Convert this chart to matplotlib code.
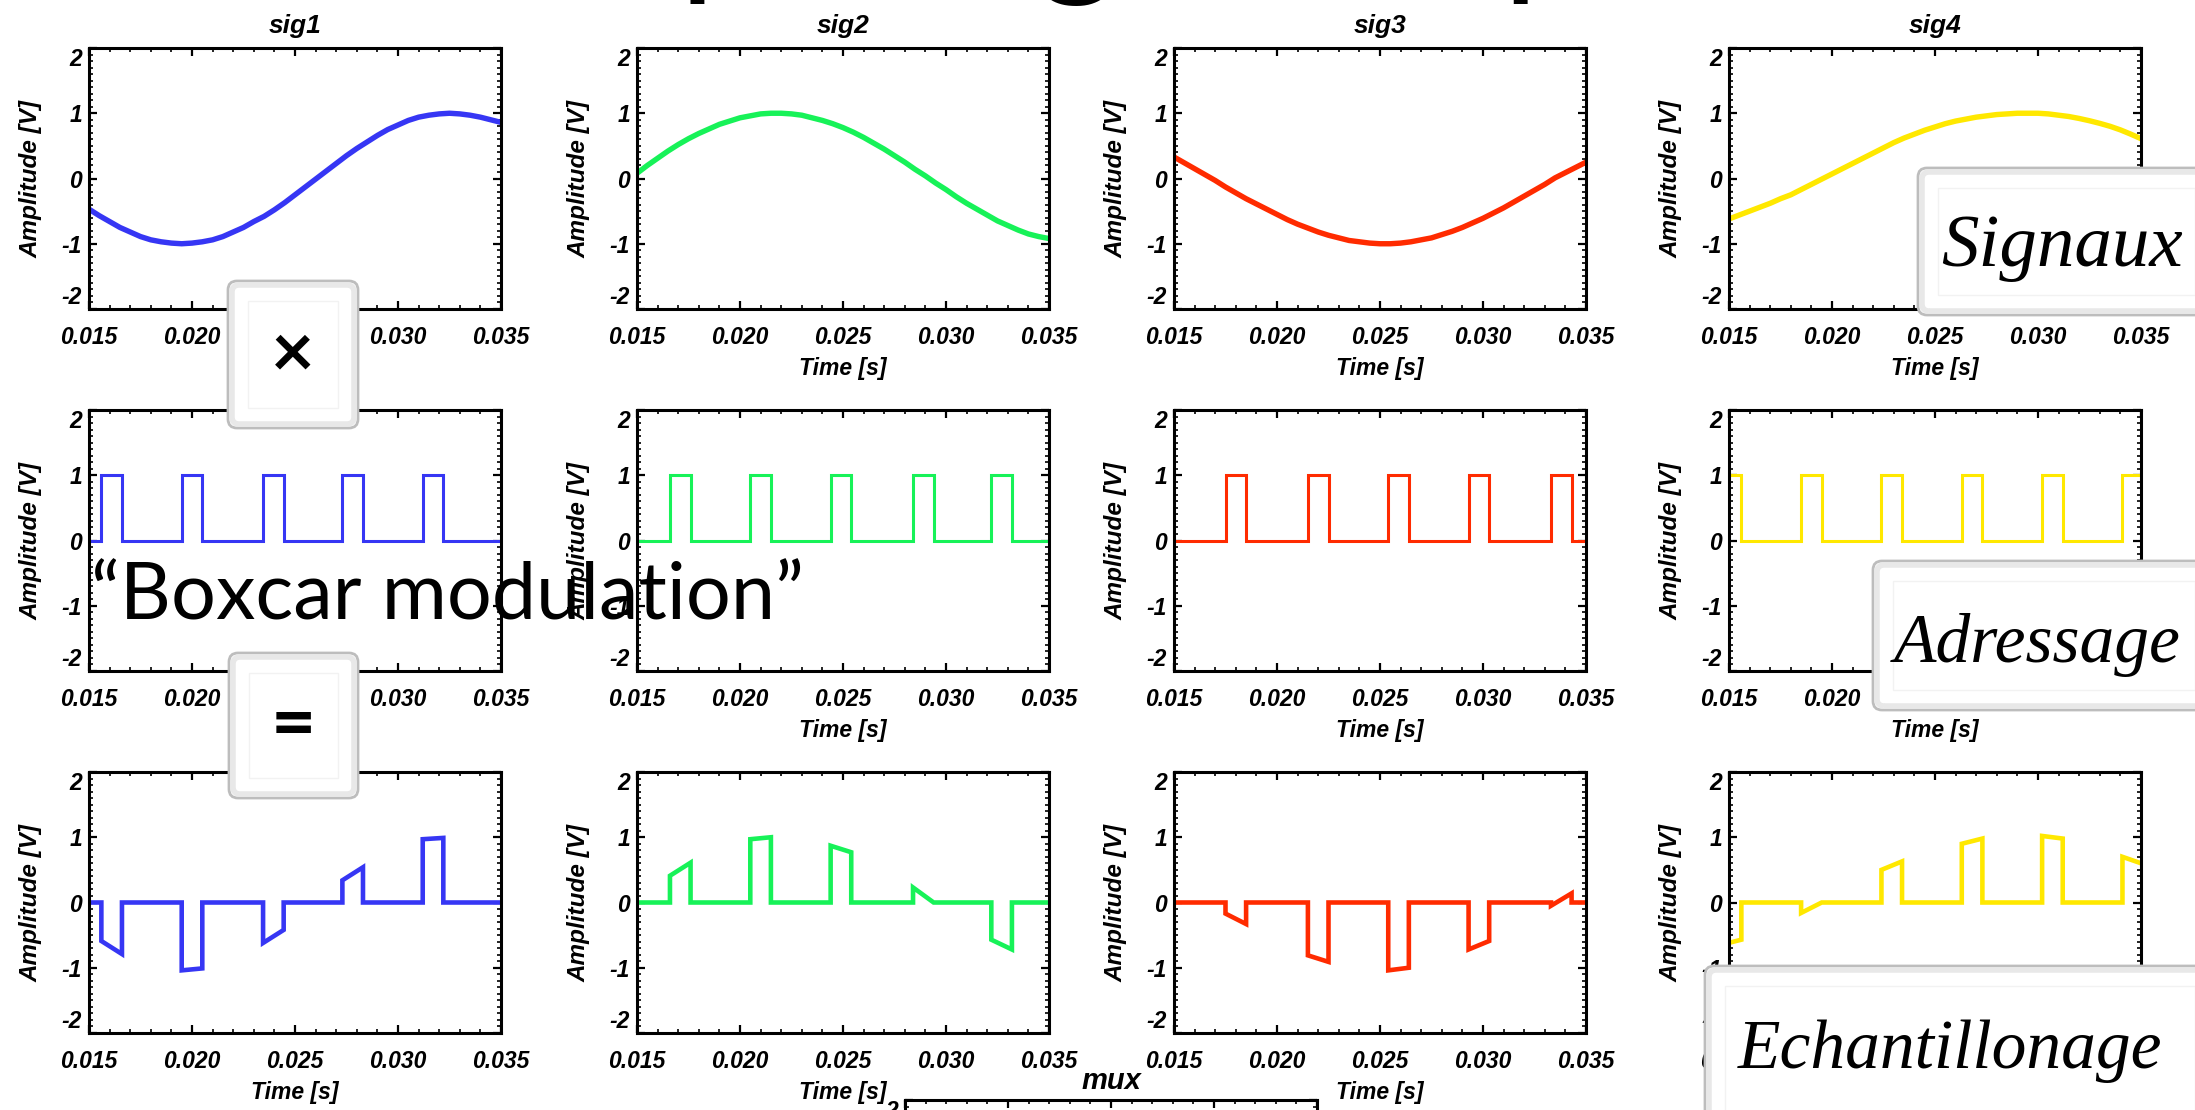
import matplotlib
matplotlib.use("Agg")
import matplotlib.pyplot as plt
from matplotlib.ticker import FixedLocator, MultipleLocator, FormatStrFormatter
from matplotlib.patches import FancyBboxPatch, Rectangle
from matplotlib.transforms import IdentityTransform

plt.rcParams['axes.unicode_minus'] = False

# ---------------- data ----------------
time_s = [0.0150, 0.0155, 0.0160, 0.0165, 0.0170, 0.0175, 0.0180, 0.0185, 0.0190, 0.0195,
          0.0200, 0.0205, 0.0210, 0.0215, 0.0220, 0.0225, 0.0230, 0.0235, 0.0240, 0.0245,
          0.0250, 0.0255, 0.0260, 0.0265, 0.0270, 0.0275, 0.0280, 0.0285, 0.0290, 0.0295,
          0.0300, 0.0305, 0.0310, 0.0315, 0.0320, 0.0325, 0.0330, 0.0335, 0.0340, 0.0345,
          0.0350]

sig1 = [-0.47, -0.57, -0.66, -0.75, -0.82, -0.89, -0.94, -0.97, -0.99, -1.00,
        -0.99, -0.97, -0.94, -0.89, -0.82, -0.75, -0.66, -0.58, -0.48, -0.37,
        -0.25, -0.13, -0.01, 0.11, 0.23, 0.35, 0.46, 0.56, 0.66, 0.75,
        0.82, 0.89, 0.94, 0.97, 0.99, 1.00, 0.99, 0.97, 0.94, 0.90,
        0.86]
sig2 = [0.08, 0.20, 0.31, 0.42, 0.52, 0.61, 0.69, 0.76, 0.83, 0.88,
        0.93, 0.96, 0.99, 1.00, 1.00, 0.99, 0.97, 0.93, 0.89, 0.84,
        0.78, 0.71, 0.63, 0.54, 0.45, 0.35, 0.25, 0.14, 0.04, -0.07,
        -0.17, -0.28, -0.38, -0.47, -0.56, -0.65, -0.72, -0.79, -0.85, -0.89,
        -0.92]
sig3 = [0.33, 0.24, 0.15, 0.06, -0.03, -0.13, -0.22, -0.31, -0.39, -0.47,
        -0.55, -0.63, -0.70, -0.76, -0.82, -0.87, -0.91, -0.95, -0.97, -0.99,
        -1.00, -1.00, -0.99, -0.97, -0.94, -0.91, -0.86, -0.81, -0.75, -0.68,
        -0.61, -0.53, -0.45, -0.36, -0.27, -0.18, -0.09, 0.01, 0.09, 0.17,
        0.25]
sig4 = [-0.62, -0.56, -0.50, -0.44, -0.38, -0.31, -0.25, -0.17, -0.09, -0.01,
        0.07, 0.15, 0.23, 0.31, 0.39, 0.47, 0.55, 0.62, 0.68, 0.74,
        0.79, 0.84, 0.88, 0.91, 0.94, 0.96, 0.98, 0.99, 1.00, 1.00,
        1.00, 0.99, 0.97, 0.95, 0.92, 0.885, 0.845, 0.80, 0.745, 0.68,
        0.61]

signal_names = ["sig1", "sig2", "sig3", "sig4"]
colors = ["#3636f4", "#17f258", "#ff2b00", "#ffe800"]

pulse_width = 0.001
pulses1 = [0.0156, 0.0195, 0.02345, 0.0273, 0.0312]
pulses2 = [0.0166, 0.0205, 0.0244, 0.0284, 0.0322]
pulses3 = [0.0175, 0.0215, 0.0254, 0.0293, 0.0333]
pulses4 = [0.0146, 0.0185, 0.0224, 0.0263, 0.0302, 0.0341]

# sampled value at start / end of each pulse
samp1_a = [-0.59, -1.04, -0.62, 0.34, 0.97]
samp1_b = [-0.79, -1.01, -0.42, 0.54, 0.99]
samp2_a = [0.41, 0.97, 0.87, 0.23, -0.57]
samp2_b = [0.61, 1.00, 0.77, 0.00, -0.72]
samp3_a = [-0.17, -0.81, -1.04, -0.72, -0.05]
samp3_b = [-0.33, -0.91, -1.00, -0.59, 0.14]
samp4_a = [-0.65, -0.16, 0.50, 0.90, 1.02, 0.70]
samp4_b = [-0.57, 0.00, 0.63, 0.98, 0.98, 0.59]

xtick_vals = [0.015, 0.020, 0.025, 0.030, 0.035]
ytick_vals = [-2, -1, 0, 1, 2]

# ---------------- layout ----------------
W, H, DPI = 2195, 1110, 100
fig = plt.figure(figsize=(W / DPI, H / DPI), dpi=DPI)
fig.patch.set_facecolor("white")

col_left = [89, 637, 1174, 1729]
row_top = [48, 410, 772]
AX_W, AX_H = 412, 261

TICKFONT = dict(family="Liberation Sans", weight="bold", style="italic")


def add_ax(left, top):
    return fig.add_axes([left / W, 1 - (top + AX_H) / H, AX_W / W, AX_H / H])


def style_ax(ax):
    ax.set_xlim(0.015, 0.035)
    ax.set_ylim(-2, 2)
    ax.xaxis.set_major_locator(FixedLocator(xtick_vals))
    ax.xaxis.set_minor_locator(MultipleLocator(0.001))
    ax.yaxis.set_major_locator(FixedLocator(ytick_vals))
    ax.yaxis.set_minor_locator(MultipleLocator(0.1))
    ax.xaxis.set_major_formatter(FormatStrFormatter("%.3f"))
    ax.yaxis.set_major_formatter(FormatStrFormatter("%d"))
    ax.tick_params(which="both", direction="in", top=True, right=True, colors="black")
    ax.tick_params(which="major", length=5.5, width=1.6)
    ax.tick_params(which="minor", length=2.6, width=1.2)
    ax.tick_params(axis="x", which="major", pad=12)
    ax.tick_params(axis="y", which="major", pad=5)
    for sp in ax.spines.values():
        sp.set_linewidth(2.2)
        sp.set_color("black")
    for lab in ax.get_xticklabels() + ax.get_yticklabels():
        lab.set_fontfamily(TICKFONT["family"])
        lab.set_fontweight("bold")
        lab.set_fontstyle("italic")
        lab.set_fontsize(16.5)
    ylabs = ax.get_yticklabels()
    ylabs[0].set_verticalalignment("bottom")
    ylabs[-1].set_verticalalignment("top")
    ax.set_ylabel("Amplitude [V]", fontsize=17.5, labelpad=14, **TICKFONT)
    ax.set_xlabel("Time [s]", fontsize=16.5, labelpad=6, **TICKFONT)


def boxcar_xy(starts, width):
    xs, ys = [0.014], [0.0]
    for s in starts:
        xs += [s, s, s + width, s + width]
        ys += [0.0, 1.0, 1.0, 0.0]
    xs.append(0.036)
    ys.append(0.0)
    return xs, ys


def sampled_xy(starts, width, va, vb):
    xs, ys = [0.014], [0.0]
    for s, a, b in zip(starts, va, vb):
        xs += [s, s, s + width, s + width]
        ys += [0.0, a, b, 0.0]
    xs.append(0.036)
    ys.append(0.0)
    return xs, ys


signals = [sig1, sig2, sig3, sig4]
pulses = [pulses1, pulses2, pulses3, pulses4]
samp_a = [samp1_a, samp2_a, samp3_a, samp4_a]
samp_b = [samp1_b, samp2_b, samp3_b, samp4_b]

for c in range(4):
    # row 1 : signals
    ax = add_ax(col_left[c], row_top[0])
    ax.plot(time_s, signals[c], color=colors[c], lw=3.9, solid_capstyle="butt")
    style_ax(ax)
    ax.set_title(signal_names[c], fontsize=19, pad=11, **TICKFONT)
    # row 2 : boxcar addressing
    ax = add_ax(col_left[c], row_top[1])
    bx, by = boxcar_xy(pulses[c], pulse_width)
    ax.plot(bx, by, color=colors[c], lw=2.2, solid_joinstyle="miter")
    style_ax(ax)
    # row 3 : sampled signal
    ax = add_ax(col_left[c], row_top[2])
    sx, sy = sampled_xy(pulses[c], pulse_width, samp_a[c], samp_b[c])
    ax.plot(sx, sy, color=colors[c], lw=3.3, solid_joinstyle="miter")
    style_ax(ax)

# "mux" panel, mostly below the visible area
axm = fig.add_axes([905 / W, 1 - (1100 + AX_H) / H, AX_W / W, AX_H / H])
style_ax(axm)
axm.set_title("mux", fontsize=21, pad=8, **TICKFONT)

# ---------------- slide overlay ----------------
renderer = fig.canvas.get_renderer()


def text_w(s, size):
    t = fig.text(0, 0, s, fontsize=size, family="Lato")
    w = t.get_window_extent(renderer).width
    t.remove()
    return w


# big slide title (only the descenders are inside the picture):
# place it so that the two "p" stems fall where they are in the slide
title = "Multiplexage temporel"
base = 100.0
w_a = text_w("Multi", base)
w_b = text_w("Multiplexage tem", base)
scale = (1520 - 697) / (w_b - w_a)
tsize = base * scale
em = tsize * DPI / 72.0
x_start = 697 - w_a * scale - 0.115 * em
baseline = 10 - 0.205 * em
fig.text(x_start / W, 1 - baseline / H, title, fontsize=tsize,
         family="Lato", ha="left", va="baseline", color="black", zorder=3)

fig.text(91 / W, 1 - 619 / H, "\u201cBoxcar modulation\u201d", fontsize=57,
         family="Lato", ha="left", va="baseline", color="black", zorder=12)

ID = IdentityTransform()


def frame_box(x0, y0, x1, y1):
    w, h = x1 - x0, y1 - y0
    fig.add_artist(FancyBboxPatch((x0, H - y1), w, h,
                                  boxstyle="round,pad=0,rounding_size=9",
                                  fc="white", ec="#bdbdbd", lw=2.0,
                                  transform=ID, zorder=10))
    fig.add_artist(FancyBboxPatch((x0 + 4, H - y1 + 4), w - 8, h - 8,
                                  boxstyle="round,pad=0,rounding_size=7",
                                  fc="none", ec="#e8e8e8", lw=4.0,
                                  transform=ID, zorder=10))
    fig.add_artist(Rectangle((x0 + 20, H - y1 + 20), w - 40, h - 40,
                             fc="none", ec="#f2f2f2", lw=1.0,
                             transform=ID, zorder=10))


frame_box(228, 281, 358, 428)
fig.text(293 / W, 1 - 355 / H, "\u00d7", fontsize=54, family="Lato",
         weight="bold", ha="center", va="center", zorder=11)
frame_box(229, 653, 358, 798)
fig.text(293 / W, 1 - 727 / H, "=", fontsize=56, family="Lato",
         weight="bold", ha="center", va="center", zorder=11)

SERIF = dict(family="Liberation Serif", style="italic")
frame_box(1918, 168, 2215, 315)
fig.text(2062 / W, 1 - 266 / H, "Signaux", fontsize=54, ha="center",
         va="baseline", zorder=11, **SERIF)
frame_box(1873, 561, 2215, 710)
fig.text(2037 / W, 1 - 662 / H, "Adressage", fontsize=50, ha="center",
         va="baseline", zorder=11, **SERIF)
frame_box(1705, 966, 2215, 1140)
fig.text(1950 / W, 1 - 1068 / H, "Echantillonage", fontsize=50, ha="center",
         va="baseline", zorder=11, **SERIF)

fig.savefig("out.png", dpi=DPI)
